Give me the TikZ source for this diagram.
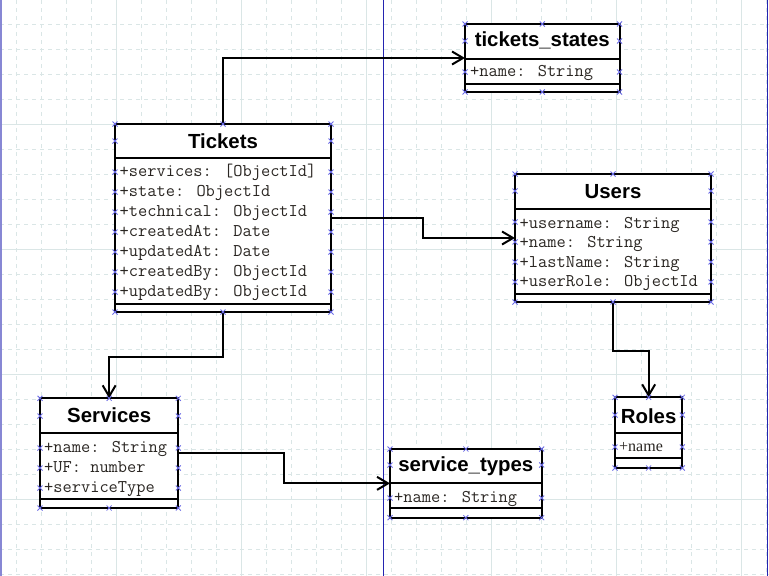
\documentclass[tikz,border=0pt]{standalone}
\usepackage{fontspec}
\setmainfont{Liberation Sans}
\newfontfamily\serf{Liberation Serif}
\usetikzlibrary{arrows.meta}
\definecolor{gridc}{HTML}{DAE6E6}
\definecolor{pageb}{HTML}{2424B0}
\definecolor{xc}{HTML}{6A6AE6}
\definecolor{attrc}{HTML}{2A2622}
\newcommand\sidex[3]{\foreach \xx in {#1,#2} \foreach \yy in {#3} \draw[xm] (\xx,\yy) +(-2.5,-2.5) -- +(2.5,2.5) +(-2.5,2.5) -- +(2.5,-2.5);}
\newcommand\midx[3]{\foreach \yy in {#2,#3} \draw[xm] (#1,\yy) +(-2.5,-2.5) -- +(2.5,2.5) +(-2.5,2.5) -- +(2.5,-2.5);}
\begin{document}
\begin{tikzpicture}[x=1pt,y=-1pt,
  box/.style={draw,line width=2pt,fill=white,inner sep=0pt,outer sep=0pt,anchor=north west},
  sepl/.style={line width=2pt},
  ttl/.style={font=\fontsize{20.4}{22}\selectfont\bfseries,anchor=base,inner sep=0pt},
  attr/.style={font=\ttfamily\fontsize{17.9}{19}\selectfont,text=attrc,anchor=base west,inner sep=0pt},
  sattr/.style={font=\serf\fontsize{16}{18}\selectfont,text=attrc,anchor=base west,inner sep=0pt},
  conn/.style={line width=2pt,-{Straight Barb[length=11pt,width=13pt]}},
  xm/.style={draw=xc,line width=0.8pt},
  gridd/.style={draw=gridc,line width=1pt,dash pattern=on 4pt off 4pt},
  grids/.style={draw=gridc,line width=1pt}
]
\useasboundingbox (0,0) rectangle (769,576);
\fill[white] (0,0) rectangle (769,576);
% grid
\foreach \k in {0,...,30} \draw[gridd] (16+25*\k,0) -- (16+25*\k,576);
\foreach \k in {0,...,22} \draw[gridd] (0,24+25*\k) -- (769,24+25*\k);
\foreach \xx in {116,241,366,491,616,741} \draw[grids] (\xx,0) -- (\xx,576);
\foreach \yy in {124,249,374,499} \draw[grids] (0,\yy) -- (769,\yy);
% page borders
\draw[pageb!55,line width=1.5pt] (0.75,0) -- (0.75,576);
\draw[pageb,line width=1.3pt] (383.3,0) -- (383.3,576);
\draw[pageb,line width=1.3pt] (767.3,0) -- (767.3,576);

% Tickets
\node[box,minimum width=216pt,minimum height=188pt] (tickets) at (115,124) {};
\draw[sepl] (115,158) -- (331,158);
\draw[sepl] (115,303.5) -- (331,303.5);
\node[ttl] (ticketsT) at (223,148) {Tickets};
\node[attr] (tk1) at (119.5,176.7) {+services: [ObjectId]};
\node[attr] (tk2) at (119.5,196.7) {+state: ObjectId};
\node[attr] (tk3) at (119.5,216.5) {+technical: ObjectId};
\node[attr] (tk4) at (119.5,236.5) {+createdAt: Date};
\node[attr] (tk5) at (119.5,256.5) {+updatedAt: Date};
\node[attr] (tk6) at (119.5,276.5) {+createdBy: ObjectId};
\node[attr] (tk7) at (119.5,296.5) {+updatedBy: ObjectId};

% tickets_states
\node[box,minimum width=154.5pt,minimum height=68pt] (tstates) at (465,24) {};
\draw[sepl] (465,59) -- (619.5,59);
\draw[sepl] (465,84) -- (619.5,84);
\node[ttl] (tstatesT) at (542.25,46) {tickets\_states};
\node[attr] (ts1) at (470,76.3) {+name: String};

% Users
\node[box,minimum width=196pt,minimum height=128pt] (users) at (515,174) {};
\draw[sepl] (515,208.5) -- (711,208.5);
\draw[sepl] (515,293.5) -- (711,293.5);
\node[ttl] (usersT) at (613,198.3) {Users};
\node[attr] (us1) at (519.5,228) {+username: String};
\node[attr] (us2) at (519.5,247.7) {+name: String};
\node[attr] (us3) at (519.5,267.2) {+lastName: String};
\node[attr] (us4) at (519.5,286.7) {+userRole: ObjectId};

% Services
\node[box,minimum width=138.3pt,minimum height=109.7pt] (services) at (40,398.3) {};
\draw[sepl] (40,433.3) -- (178.3,433.3);
\draw[sepl] (40,498.5) -- (178.3,498.5);
\node[ttl] (servicesT) at (109.15,422.7) {Services};
\node[attr] (sv1) at (44,452.4) {+name: String};
\node[attr] (sv2) at (44,472.4) {+UF: number};
\node[attr] (sv3) at (44,492.2) {+serviceType};

% service_types
\node[box,minimum width=151.7pt,minimum height=68.7pt] (stypes) at (390,449) {};
\draw[sepl] (390,482.7) -- (541.7,482.7);
\draw[sepl] (390,508.3) -- (541.7,508.3);
\node[ttl] (stypesT) at (465.85,471.7) {service\_types};
\node[attr] (st1) at (394,502.5) {+name: String};

% Roles
\node[box,minimum width=67.3pt,minimum height=70.7pt] (roles) at (615,397.3) {};
\draw[sepl] (615,433.3) -- (682.3,433.3);
\draw[sepl] (615,458.3) -- (682.3,458.3);
\node[ttl] (rolesT) at (648.65,423.3) {Roles};
\node[sattr] (rl1) at (619,451.7) {+name};

% connectors
\draw[conn] (tickets.north) |- (tstates.west);
\draw[conn] (tickets.east) -- ++(92,0) |- (users.west);
\draw[conn] (tickets.south) -- ++(0,45) -| (services.north);
\draw[conn] (services.east) -- ++(106,0) |- (stypes.west);
\draw[conn] (users.south) -- ++(0,49) -| (roles.north);

% handles
\sidex{115}{331}{124,141,172,192,212,232,252,272,292,312}
\midx{223}{124}{312}
\sidex{465}{619.5}{24,41,72,92}
\midx{542.25}{24}{92}
\sidex{515}{711}{174,191,222,242,262,282,302}
\midx{613}{174}{302}
\sidex{40}{178.3}{398.3,416,448,468,488,508}
\midx{109.15}{398.3}{508}
\sidex{390}{541.7}{449,465,498,517.7}
\midx{465.85}{449}{517.7}
\sidex{615}{682.3}{397.3,415,447,468}
\midx{648.65}{397.3}{468}
\end{tikzpicture}
\end{document}
